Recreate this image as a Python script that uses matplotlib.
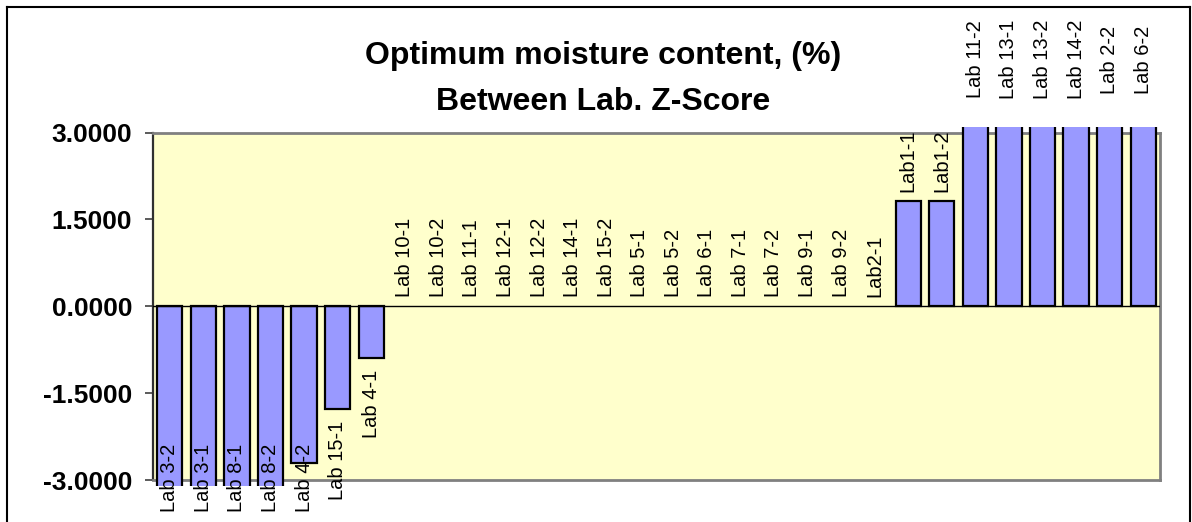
import numpy as np
import matplotlib
matplotlib.use('Agg')
import matplotlib.pyplot as plt
from matplotlib.patches import Rectangle
from matplotlib.lines import Line2D

# ---- data ----
labs = ['Lab 3-2', 'Lab 3-1', 'Lab 8-1', 'Lab 8-2', 'Lab 4-2', 'Lab 15-1', 'Lab 4-1',
        'Lab 10-1', 'Lab 10-2', 'Lab 11-1', 'Lab 12-1', 'Lab 12-2', 'Lab 14-1', 'Lab 15-2',
        'Lab 5-1', 'Lab 5-2', 'Lab 6-1', 'Lab 7-1', 'Lab 7-2', 'Lab 9-1', 'Lab 9-2', 'Lab2-1',
        'Lab1-1', 'Lab1-2', 'Lab 11-2', 'Lab 13-1', 'Lab 13-2', 'Lab 14-2', 'Lab 2-2', 'Lab 6-2']
zscores = [-3.5, -3.5, -3.5, -3.5, -2.70, -1.78, -0.90,
           0, 0, 0, 0, 0, 0, 0,
           0, 0, 0, 0, 0, 0, 0, 0,
           1.81, 1.81, 3.5, 3.5, 3.5, 3.5, 3.5, 3.5]
yticks = [-3.0, -1.5, 0.0, 1.5, 3.0]

W, H = 1192, 522
plt.rcParams['font.family'] = ['Liberation Sans', 'DejaVu Sans']
fig = plt.figure(figsize=(W / 100, H / 100), dpi=100)
ax = fig.add_axes([153 / W, 1 - 480 / H, (1160 - 153) / W, (480 - 132.5) / H])
ax.set_facecolor('#FFFFCC')

x = np.arange(len(labs))
bars = ax.bar(x, zscores, width=0.75, color='#9999FF', edgecolor='black', linewidth=1.6, zorder=3)
# Excel lets the bars run a few pixels past the plot area before cutting them
clip = Rectangle((0, -0.016), 1, 1.032, transform=ax.transAxes)
for b, v in zip(bars, zscores):
    b.set_clip_path(clip)
    if v == 0:
        b.set_linewidth(0)

ax.axhline(0, color='black', lw=1.0, zorder=4)
ax.set_xlim(-0.5, len(labs) - 0.5)
ax.set_ylim(-3, 3)
ax.set_yticks(yticks)
ax.set_yticklabels([f'{t:.4f}' for t in yticks], fontsize=19, fontweight='bold')
ax.tick_params(axis='y', length=6, width=1.2, pad=9, color='#404040')
ax.set_xticks([])
for s in ['top', 'right', 'bottom']:
    ax.spines[s].set_color('#808080')
    ax.spines[s].set_linewidth(2)
ax.spines['left'].set_color('#303030')
ax.spines['left'].set_linewidth(1.6)

# data labels, kept inside the chart area like Excel does
fig.canvas.draw()
r = fig.canvas.get_renderer()
to_data = ax.transData.inverted()
floor_px = H - 512   # display coords, y up
ceil_px = H - 20
for xi, v, lab in zip(x, zscores, labs):
    if v >= 0:
        t = ax.text(xi, v + 0.16, lab, rotation=90, ha='center', va='bottom', fontsize=14.5, clip_on=False, zorder=5)
        bb = t.get_window_extent(r)
        if bb.y1 > ceil_px:
            t.set_y(to_data.transform((0, ceil_px))[1])
            t.set_va('top')
    else:
        t = ax.text(xi, v - 0.19, lab, rotation=90, ha='center', va='top', fontsize=14.5, clip_on=False, zorder=5)
        bb = t.get_window_extent(r)
        if bb.y0 < floor_px:
            t.set_y(to_data.transform((0, floor_px))[1])
            t.set_va('bottom')

fig.text(603 / W, 1 - 56 / H, 'Optimum moisture content, (%)', ha='center', va='center', fontsize=23, fontweight='bold')
fig.text(603 / W, 1 - 102 / H, 'Between Lab. Z-Score', ha='center', va='center', fontsize=23, fontweight='bold')

# outer chart frame (bottom edge falls off the picture)
for (x0, y0, x1, y1) in [(7, 7, 7, 530), (7, 7, 1190, 7), (1190, 7, 1190, 530)]:
    fig.add_artist(Line2D([x0 / W, x1 / W], [1 - y0 / H, 1 - y1 / H], color='black', lw=1.5))

fig.savefig('out.png', dpi=100)
